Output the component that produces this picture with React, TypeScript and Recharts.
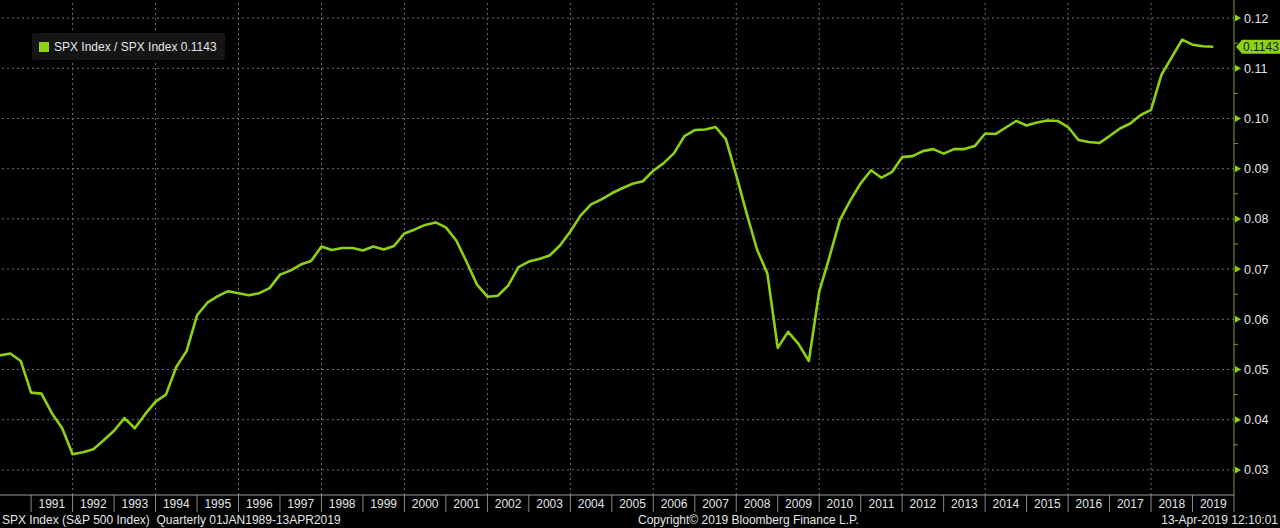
import { Line, LineChart, ReferenceLine, XAxis, YAxis } from "recharts";

// SPX Index / SPX Index ratio, quarterly, period-end values
const ratio1990s = [
  0.0528, 0.0532, 0.0517, 0.0454,
  0.0452, 0.0413, 0.0383, 0.0331,
  0.0335, 0.0341, 0.0359, 0.0378,
  0.0403, 0.0383, 0.0411, 0.0436,
  0.045, 0.0505, 0.0537, 0.0608,
  0.0633, 0.0646, 0.0656, 0.0652,
  0.0648, 0.0652, 0.0662, 0.0689,
  0.0697, 0.0709, 0.0716, 0.0745,
  0.0738, 0.0742, 0.0742, 0.0737,
  0.0745, 0.0739, 0.0746, 0.0771,
];
const ratio2000s = [
  0.0779, 0.0788, 0.0793, 0.0783,
  0.0757, 0.0714, 0.0669, 0.0645,
  0.0647, 0.0667, 0.0704, 0.0715,
  0.072, 0.0727, 0.0747, 0.0775,
  0.0807, 0.0829, 0.0839, 0.0851,
  0.0861, 0.087, 0.0875, 0.0896,
  0.0911, 0.0931, 0.0965, 0.0977,
  0.0978, 0.0983, 0.0959, 0.0887,
  0.0811, 0.0739, 0.0691, 0.0543,
  0.0575, 0.0551, 0.0517, 0.0655,
];
const ratio2010s = [
  0.0725, 0.0798, 0.0837, 0.0871,
  0.0897, 0.0882, 0.0893, 0.0923,
  0.0925, 0.0935, 0.0939, 0.093,
  0.0939, 0.0939, 0.0945, 0.097,
  0.0969, 0.0982, 0.0995, 0.0986,
  0.0992, 0.0996, 0.0995, 0.0983,
  0.0957, 0.0953, 0.0951, 0.0965,
  0.098, 0.099, 0.1007, 0.1017,
  0.1087, 0.1122, 0.1157, 0.1147,
  0.1144, 0.1143,
];

const firstYear = 1990;
const lastValue = 0.1143;

const yearLabels = [
  "1991", "1992", "1993", "1994", "1995", "1996", "1997", "1998", "1999", "2000",
  "2001", "2002", "2003", "2004", "2005", "2006", "2007", "2008", "2009", "2010",
  "2011", "2012", "2013", "2014", "2015", "2016", "2017", "2018", "2019",
];
const gridYears = [1992, 1994, 1996, 1998, 2000, 2002, 2004, 2006, 2008, 2010, 2012, 2014, 2016, 2018];
const yTickValues = [0.03, 0.04, 0.05, 0.06, 0.07, 0.08, 0.09, 0.1, 0.11, 0.12];
const yMinorTicks = [0.035, 0.045, 0.055, 0.065, 0.075, 0.085, 0.095, 0.105, 0.115];

const ratioValues = [...ratio1990s, ...ratio2000s, ...ratio2010s];
// each value sits at the end of its quarter
const data = ratioValues.map((v, i) => ({ t: firstYear + (i + 1) * 0.25, v }));

const yearStarts = [...yearLabels.map(Number), Number(yearLabels[yearLabels.length - 1]) + 1];
const xTicks = [...yearStarts, ...yearLabels.map((y) => Number(y) + 0.5)].sort((a, b) => a - b);
const yTicks = [...yTickValues, ...yMinorTicks].sort((a, b) => a - b);

const GREEN = "#8cd211";
const AXIS_GREEN = "#7a9e2a";
const GRID = "#707070";
const TEXT = "#e2e6ea";
const FONT = "'Liberation Sans', Arial, sans-serif";

function XTick({ x, y, payload }: any) {
  const v = payload.value as number;
  if (Number.isInteger(v)) {
    return <line x1={x} x2={x} y1={y} y2={y + 17} stroke="#8a8a8a" />;
  }
  return (
    <text x={x} y={y + 13} textAnchor="middle" fill={TEXT} fontSize={12} fontFamily={FONT}>
      {String(Math.floor(v))}
    </text>
  );
}

function YTick({ x, y, payload }: any) {
  const v = payload.value as number;
  const major = yTickValues.some((m) => Math.abs(m - v) < 1e-9);
  if (!major) {
    return <line x1={x} x2={x + 4} y1={y} y2={y} stroke={AXIS_GREEN} />;
  }
  return (
    <g>
      <path d={`M${x + 1},${y - 3.5} L${x + 7},${y} L${x + 1},${y + 3.5} Z`} fill={GREEN} />
      <text x={x + 10} y={y + 4.5} fill={TEXT} fontSize={12.5} fontFamily={FONT}>
        {v.toFixed(2)}
      </text>
    </g>
  );
}

function LastValueFlag({ viewBox }: any) {
  const x = viewBox.x + viewBox.width;
  const y = viewBox.y;
  return (
    <g>
      <path
        d={`M${x + 2},${y} L${x + 8},${y - 7} L${x + 46},${y - 7} L${x + 46},${y + 7} L${x + 8},${y + 7} Z`}
        fill={GREEN}
      />
      <text x={x + 9} y={y + 4.5} fill="#17230a" fontSize={12} fontFamily={FONT}>
        {lastValue.toFixed(4)}
      </text>
    </g>
  );
}

export default function App() {
  return (
    <div
      style={{
        position: "absolute",
        left: 0,
        top: 0,
        width: 1280,
        height: 528,
        background: "#000",
        overflow: "hidden",
        fontFamily: FONT,
      }}
    >
      <LineChart
        width={1280}
        height={512}
        data={data}
        margin={{ top: 0, right: 0, bottom: 0, left: 0 }}
        style={{ position: "absolute", left: 0, top: 0 }}
      >
        <XAxis
          type="number"
          dataKey="t"
          domain={[1990.25, 2020]}
          allowDataOverflow
          ticks={xTicks}
          interval={0}
          tick={<XTick />}
          tickLine={false}
          tickSize={0}
          tickMargin={0}
          height={17}
          axisLine={{ stroke: "#9a9a9a" }}
        />
        <YAxis
          orientation="right"
          type="number"
          domain={[0.025, 0.1236]}
          allowDataOverflow
          ticks={yTicks}
          interval={0}
          tick={<YTick />}
          tickLine={false}
          tickSize={0}
          tickMargin={0}
          width={46}
          axisLine={{ stroke: AXIS_GREEN }}
        />
        {yTickValues.map((v) => (
          <ReferenceLine key={`h${v}`} y={v} stroke={GRID} strokeDasharray="2 3" />
        ))}
        {gridYears.map((yr) => (
          <ReferenceLine key={`v${yr}`} x={yr} stroke={GRID} strokeDasharray="2 3" />
        ))}
        <Line
          type="linear"
          dataKey="v"
          stroke={GREEN}
          strokeWidth={2.6}
          dot={false}
          activeDot={false}
          isAnimationActive={false}
          strokeLinejoin="round"
        />
        <ReferenceLine
          y={lastValue}
          stroke="none"
          ifOverflow="visible"
          label={(props: any) => <LastValueFlag {...props} />}
        />
      </LineChart>

      <div
        style={{
          position: "absolute",
          left: 32,
          top: 33,
          width: 193,
          height: 27,
          background: "#151515",
          borderRadius: 3,
          display: "flex",
          alignItems: "center",
          color: TEXT,
          fontSize: 12,
        }}
      >
        <span style={{ width: 10, height: 10, background: GREEN, marginLeft: 7, marginRight: 5 }} />
        <span>SPX Index / SPX Index {lastValue.toFixed(4)}</span>
      </div>

      <div style={{ position: "absolute", left: 2, top: 513, color: TEXT, fontSize: 12, whiteSpace: "pre" }}>
        SPX Index (S&amp;P 500 Index)  Quarterly 01JAN1989-13APR2019
      </div>
      <div style={{ position: "absolute", left: 638, top: 513, color: TEXT, fontSize: 12 }}>
        Copyright© 2019 Bloomberg Finance L.P.
      </div>
      <div style={{ position: "absolute", right: 2, top: 513, color: TEXT, fontSize: 12 }}>
        13-Apr-2019 12:10:01
      </div>
    </div>
  );
}
